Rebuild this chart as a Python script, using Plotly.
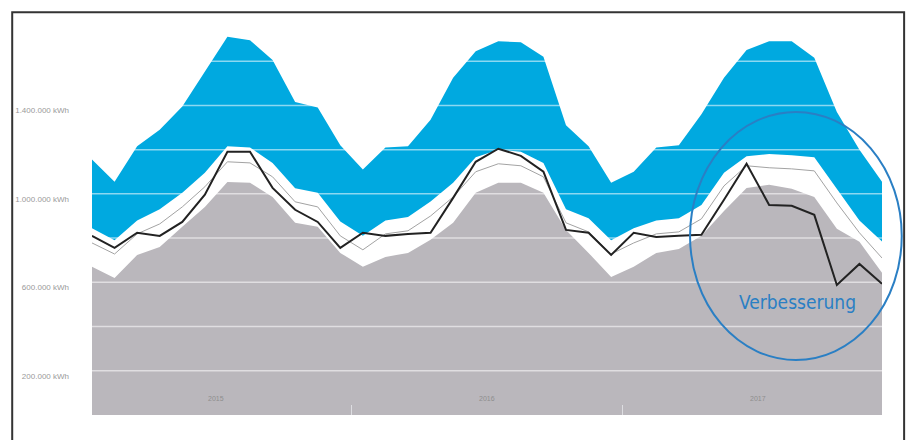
import plotly.graph_objects as go

years = ["2015", "2016", "2017"]
months = [f"{y}-{m:02d}" for y in years for m in range(1, 13)]

# Monthly energy figures in kWh
band_top = [1155000, 1055000, 1215000, 1290000, 1395000, 1550000, 1710000, 1695000, 1605000, 1415000, 1390000, 1220000,
            1110000, 1210000, 1215000, 1335000, 1525000, 1645000, 1690000, 1685000, 1620000, 1310000, 1215000, 1050000,
            1100000, 1210000, 1220000, 1360000, 1525000, 1650000, 1690000, 1690000, 1615000, 1370000, 1200000, 1055000]
band_bottom = [845000, 790000, 880000, 930000, 1005000, 1095000, 1215000, 1210000, 1140000, 1025000, 1005000, 875000,
               810000, 880000, 895000, 965000, 1050000, 1165000, 1200000, 1190000, 1140000, 930000, 890000, 790000,
               845000, 880000, 890000, 950000, 1095000, 1170000, 1180000, 1175000, 1165000, 1020000, 880000, 785000]
reference = [778000, 728000, 819000, 864000, 941000, 1032000, 1145000, 1140000, 1077000, 964000, 941000, 810000,
             747000, 819000, 833000, 900000, 986000, 1100000, 1136000, 1127000, 1077000, 869000, 828000, 728000,
             778000, 819000, 828000, 887000, 1036000, 1127000, 1118000, 1113000, 1104000, 959000, 824000, 710000]
base = [670000, 620000, 724000, 760000, 851000, 941000, 1054000, 1050000, 986000, 869000, 851000, 733000,
        670000, 715000, 733000, 792000, 869000, 1005000, 1050000, 1050000, 1005000, 837000, 733000, 624000,
        670000, 733000, 751000, 810000, 923000, 1027000, 1041000, 1023000, 986000, 842000, 783000, 643000]
actual = [810000, 756000, 824000, 810000, 873000, 996000, 1190000, 1190000, 1027000, 928000, 873000, 756000,
          824000, 810000, 819000, 824000, 982000, 1145000, 1204000, 1172000, 1100000, 837000, 824000, 724000,
          824000, 805000, 810000, 815000, 973000, 1136000, 950000, 946000, 905000, 588000, 683000, 593000]

grid_levels = [200000, 400000, 600000, 800000, 1000000, 1200000, 1400000, 1600000]
tick_vals = [200000, 600000, 1000000, 1400000]
tick_text = ["200.000 kWh", "600.000 kWh", "1.000.000 kWh", "1.400.000 kWh"]
note_text = "Verbesserung"

BLUE = "#00a9e0"
GREY = "#bab7bc"
RING = "#2a7fc4"

x = list(range(len(months)))
last = x[-1]

fig = go.Figure()

# grey base area
fig.add_trace(go.Scatter(x=x, y=base, mode="lines", line=dict(width=0, color=GREY),
                         fill="tozeroy", fillcolor=GREY, hoverinfo="skip", showlegend=False))
# blue upper band
fig.add_trace(go.Scatter(x=x, y=band_bottom, mode="lines", line=dict(width=0, color=BLUE),
                         hoverinfo="skip", showlegend=False))
fig.add_trace(go.Scatter(x=x, y=band_top, mode="lines", line=dict(width=0, color=BLUE),
                         fill="tonexty", fillcolor=BLUE, hoverinfo="skip", showlegend=False))

# white grid lines laid over the filled areas
gx, gy = [], []
for g in grid_levels:
    gx += [x[0], last, None]
    gy += [g, g, None]
fig.add_trace(go.Scatter(x=gx, y=gy, mode="lines", line=dict(width=1.5, color="rgba(255,255,255,0.55)"),
                         hoverinfo="skip", showlegend=False))

# thin reference line and actual consumption
fig.add_trace(go.Scatter(x=x, y=reference, mode="lines", line=dict(width=1, color="#a3a3a3"),
                         showlegend=False))
fig.add_trace(go.Scatter(x=x, y=actual, mode="lines", line=dict(width=2, color="#222222"),
                         showlegend=False))

# year labels and boundary ticks
year_mid = [sum(x[i * 12:(i + 1) * 12]) / 12 for i in range(len(years))]
year_bounds = [(x[i * 12 - 1] + x[i * 12]) / 2 for i in range(1, len(years))]
for xm, yr in zip(year_mid, years):
    fig.add_annotation(x=xm, y=0, yref="paper", text=yr, showarrow=False, yshift=17,
                       xanchor="center", yanchor="middle",
                       font=dict(size=7, color="#8e8e8e", family="Liberation Sans"))

# highlight ring around the latest months
fig.add_shape(type="circle", xref="paper", yref="paper", x0=0.757, x1=1.025, y0=0.142, y1=0.783,
              line=dict(color=RING, width=2), layer="above")
fig.add_annotation(x=0.893, y=0.292, xref="paper", yref="paper", text=note_text, showarrow=False,
                   xanchor="center", yanchor="middle",
                   font=dict(size=19, color=RING,
                             family="DejaVu Sans Condensed, Liberation Sans Narrow, Arial Narrow, sans-serif"))

# outer frame
fig.add_shape(type="rect", xref="paper", yref="paper", x0=-0.101, x1=1.028, y0=-0.3, y1=1.041,
              line=dict(color="#333333", width=2), layer="above")

fig.update_layout(
    width=909, height=440,
    margin=dict(l=92, r=27, t=28, b=25),
    paper_bgcolor="white", plot_bgcolor="white",
    showlegend=False,
    xaxis=dict(range=[x[0], last], showgrid=False, zeroline=False, showline=False,
               tickvals=year_bounds, ticks="inside", ticklen=10, tickwidth=1,
               tickcolor="rgba(225,225,228,0.9)", showticklabels=False),
    yaxis=dict(range=[0, 1750000], showgrid=False, zeroline=False, showline=False,
               tickvals=tick_vals, ticktext=tick_text, ticks="",
               tickfont=dict(size=8, color="#9a9a9a", family="Liberation Sans"),
               ticklabelstandoff=22, ticklabelshift=5),
)

fig.write_html("out.html")
